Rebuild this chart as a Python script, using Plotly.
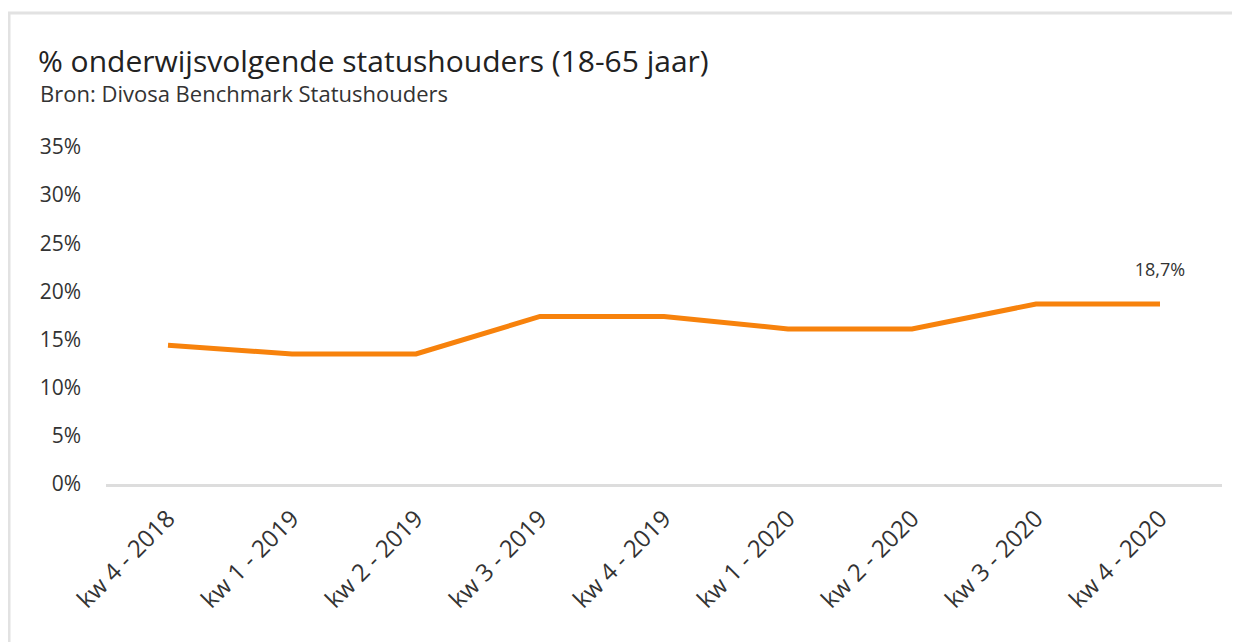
import plotly.graph_objects as go

categories = ["kw 4 - 2018", "kw 1 - 2019", "kw 2 - 2019", "kw 3 - 2019", "kw 4 - 2019",
              "kw 1 - 2020", "kw 2 - 2020", "kw 3 - 2020", "kw 4 - 2020"]
values = [14.4, 13.5, 13.5, 17.4, 17.4, 16.1, 16.1, 18.7, 18.7]
y_ticks = [0, 5, 10, 15, 20, 25, 30, 35]
y_tick_labels = [f"{v}%" for v in y_ticks]
labels = [""] * (len(values) - 1) + ["18,7%"]

FONT = "'Open Sans', Lato, sans-serif"
ORANGE = "#F7820C"

fig = go.Figure()
fig.add_trace(go.Scatter(
    x=categories, y=values, mode="lines+text",
    text=labels, textposition="top center",
    texttemplate="%{text}<br> ",
    textfont=dict(size=18, color="#333333", family=FONT),
    line=dict(color=ORANGE, width=5),
    hoverinfo="skip", showlegend=False, cliponaxis=False,
))

# page has an 8px body offset; figure spans page x 8..1240, y 8..642
fig.update_layout(
    width=1232, height=634,
    margin=dict(l=98, r=18, t=139, b=158),
    paper_bgcolor="white", plot_bgcolor="white",
    font=dict(family=FONT, color="#333333"),
    title=dict(
        text="% onderwijsvolgende statushouders (18-65 jaar)",
        xref="container", yref="container",
        x=30 / 1232, xanchor="left",
        y=1 - 53 / 634, yanchor="middle",
        font=dict(size=30, color="#222222", family=FONT),
    ),
    xaxis=dict(
        type="category", range=[-0.5, 8.5],
        showgrid=False, zeroline=False,
        showline=True, linecolor="#dddddd", linewidth=3,
        tickangle=-45, ticks="", ticklabelstandoff=8,
        tickfont=dict(size=24, color="#333333", family=FONT),
    ),
    yaxis=dict(
        range=[0, 35], tickvals=y_ticks, ticktext=y_tick_labels,
        showgrid=False, zeroline=False, showline=False,
        ticks="", ticklabelstandoff=24,
        tickfont=dict(size=21, color="#333333", family=FONT),
    ),
    annotations=[dict(
        text="Bron: Divosa Benchmark Statushouders",
        xref="paper", yref="paper",
        x=(38 - 106) / 1116, xanchor="left",
        y=(484 - 93) / 337, yanchor="middle",
        showarrow=False,
        font=dict(size=22, color="#333333", family=FONT),
    )],
    shapes=[dict(
        type="rect", xref="paper", yref="paper",
        x0=(9 - 106) / 1116, x1=1.2,
        y0=-1.0, y1=(484 - 13) / 337,
        line=dict(color="#e2e2e2", width=3),
        fillcolor="rgba(0,0,0,0)", layer="below",
    )],
)

fig.write_html("out.html")
